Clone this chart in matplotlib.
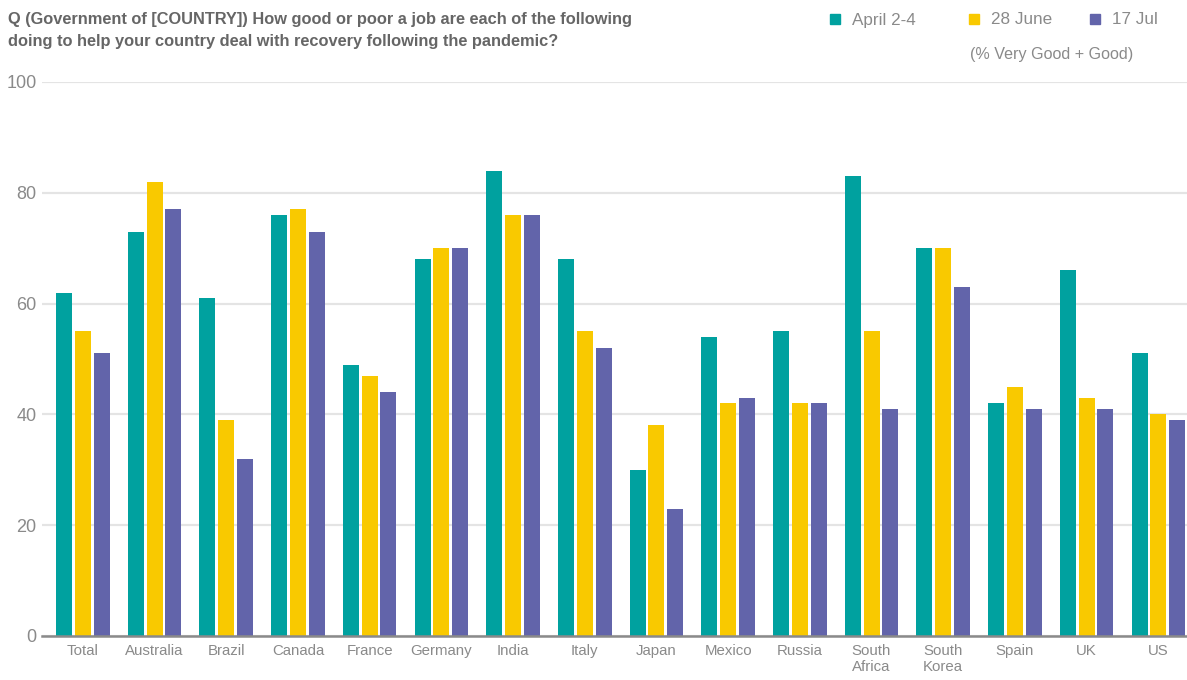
import numpy as np
import matplotlib
matplotlib.use("Agg")
import matplotlib.pyplot as plt
from matplotlib.patches import Rectangle

plt.rcParams['font.family'] = ['Liberation Sans Narrow', 'Liberation Sans', 'DejaVu Sans']

countries = ["Total", "Australia", "Brazil", "Canada", "France", "Germany", "India", "Italy",
             "Japan", "Mexico", "Russia", "South\nAfrica", "South\nKorea", "Spain", "UK", "US"]
april = [62, 73, 61, 76, 49, 68, 84, 68, 30, 54, 55, 83, 70, 42, 66, 51]
june = [55, 82, 39, 77, 47, 70, 76, 55, 38, 42, 42, 55, 70, 45, 43, 40]
july = [51, 77, 32, 73, 44, 70, 76, 52, 23, 43, 42, 41, 63, 41, 41, 39]
series_names = ["April 2-4", "28 June", "17 Jul"]
colors = ["#00A19F", "#F9C900", "#6264AA"]

W, H = 1187, 680
fig = plt.figure(figsize=(W / 100, H / 100), dpi=100)
ax = fig.add_axes([42 / W, 1 - 636 / H, 1 - 42 / W, (636 - 82) / H])

x = np.arange(len(countries))
w = 0.223
off = 0.262
for i, vals in enumerate([april, june, july]):
    ax.bar(x + (i - 1) * off, vals, width=w, color=colors[i], zorder=3)

ax.set_ylim(0, 100)
ax.set_xlim(-0.57, 15.4)
ax.set_yticks([0, 20, 40, 60, 80, 100])
ax.yaxis.grid(True, color="#e4e4e4", linewidth=1.6, zorder=0)
ax.set_axisbelow(True)
for s in ["top", "right", "left"]:
    ax.spines[s].set_visible(False)
ax.spines["bottom"].set_color("#8a8a8a")
ax.spines["bottom"].set_linewidth(1.8)
ax.spines["bottom"].set_zorder(4)
ax.tick_params(axis="y", length=0, labelsize=13, labelcolor="#8a8a8a", pad=4)
ax.tick_params(axis="x", length=0, labelsize=10.8, labelcolor="#8a8a8a", pad=6)
ax.set_xticks(x)
ax.set_xticklabels(countries, linespacing=1.15)

fig.text(8 / W, 1 - 12 / H,
         "Q (Government of [COUNTRY]) How good or poor a job are each of the following\n"
         "doing to help your country deal with recovery following the pandemic?",
         ha="left", va="top", fontsize=11.8, fontweight="bold", color="#666666", linespacing=1.6)

# legend, drawn by hand so it fits the top-right corner like the original
sq_x = [830, 969, 1090]
for sx, name, c in zip(sq_x, series_names, colors):
    fig.patches.append(Rectangle((sx / W, 1 - 24 / H), 10 / W, 10 / H,
                                 transform=fig.transFigure, color=c))
    fig.text((sx + 22) / W, 1 - 20 / H, name, ha="left", va="center",
             fontsize=12.3, color="#8a8a8a")
fig.text(970 / W, 1 - 54 / H, "(% Very Good + Good)", ha="left", va="center",
         fontsize=11.6, color="#8a8a8a")

fig.savefig("out.png", dpi=100)
